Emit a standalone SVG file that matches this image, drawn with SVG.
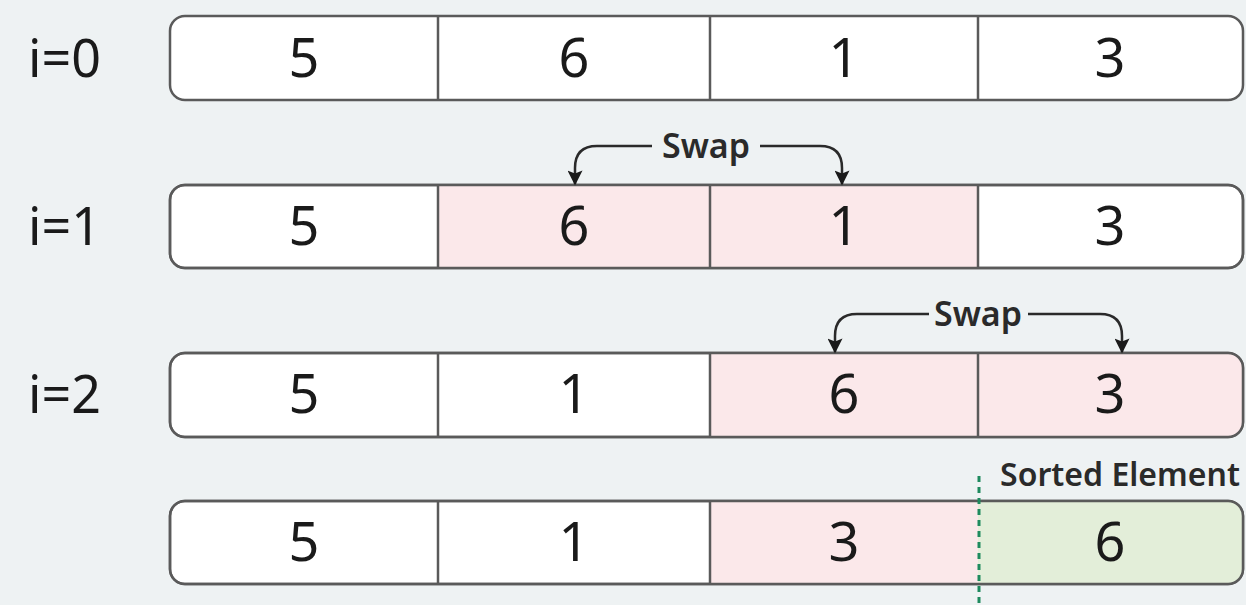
<svg xmlns="http://www.w3.org/2000/svg" width="1246" height="605" viewBox="0 0 1246 605">
<defs>
<style>
.bg{fill:#eef2f3}
.box{fill:#ffffff;stroke:#5a5a5a;stroke-width:2.5}
.div{stroke:#5a5a5a;stroke-width:2.5}
.pink{fill:#fbe8ea}
.green{fill:#e3eed9}
.num{font-family:"Noto Sans","Open Sans",sans-serif;font-size:54px;fill:#1a1a1a;text-anchor:middle}
.lbl{font-family:"Noto Sans","Open Sans",sans-serif;font-size:52px;fill:#1a1a1a}
.sw{font-family:"Noto Sans","Open Sans",sans-serif;font-size:34px;font-weight:600;fill:#2a2a2a;text-anchor:middle}
.conn{fill:none;stroke:#2a2a2a;stroke-width:2.5}
</style>
<marker id="ah" viewBox="0 0 10 10" refX="9" refY="5" markerWidth="6.5" markerHeight="6" orient="auto" markerUnits="strokeWidth">
<path d="M0,0 L10,5 L0,10 L2,5 Z" fill="#1a1a1a"/>
</marker>
<clipPath id="r1"><rect x="170" y="185" width="1073" height="83" rx="15"/></clipPath>
<clipPath id="r2"><rect x="170" y="353" width="1073" height="84" rx="15"/></clipPath>
<clipPath id="r3"><rect x="170" y="501" width="1073" height="83" rx="15"/></clipPath>
</defs>
<rect class="bg" x="0" y="0" width="1246" height="605"/>

<g id="row0">
<text class="lbl" x="28" y="77">i=0</text>
<rect class="box" x="170" y="16" width="1073" height="84" rx="15"/>
<line class="div" x1="438" y1="16" x2="438" y2="100"/>
<line class="div" x1="710" y1="16" x2="710" y2="100"/>
<line class="div" x1="978" y1="16" x2="978" y2="100"/>
<text class="num" x="304" y="77">5</text>
<text class="num" x="574" y="77">6</text>
<text class="num" x="844" y="77">1</text>
<text class="num" x="1110" y="77">3</text>
</g>

<g id="row1">
<text class="lbl" x="28" y="245">i=1</text>
<rect class="box" x="170" y="185" width="1073" height="83" rx="15"/>
<rect class="pink" x="438" y="186" width="540" height="81" clip-path="url(#r1)"/>
<line class="div" x1="438" y1="185" x2="438" y2="268"/>
<line class="div" x1="710" y1="185" x2="710" y2="268"/>
<line class="div" x1="978" y1="185" x2="978" y2="268"/>
<rect x="170" y="185" width="1073" height="83" rx="15" fill="none" stroke="#5a5a5a" stroke-width="2.5"/>
<text class="num" x="304" y="245">5</text>
<text class="num" x="574" y="245">6</text>
<text class="num" x="844" y="245">1</text>
<text class="num" x="1110" y="245">3</text>
</g>

<g id="row2">
<text class="lbl" x="28" y="413">i=2</text>
<rect class="box" x="170" y="353" width="1073" height="84" rx="15"/>
<rect class="pink" x="710" y="354" width="533" height="82" clip-path="url(#r2)"/>
<line class="div" x1="438" y1="353" x2="438" y2="437"/>
<line class="div" x1="710" y1="353" x2="710" y2="437"/>
<line class="div" x1="978" y1="353" x2="978" y2="437"/>
<rect x="170" y="353" width="1073" height="84" rx="15" fill="none" stroke="#5a5a5a" stroke-width="2.5"/>
<text class="num" x="304" y="413">5</text>
<text class="num" x="574" y="413">1</text>
<text class="num" x="844" y="413">6</text>
<text class="num" x="1110" y="413">3</text>
</g>

<g id="row3">
<rect class="box" x="170" y="501" width="1073" height="83" rx="15"/>
<rect class="pink" x="710" y="502" width="268" height="81"/>
<rect class="green" x="978" y="502" width="265" height="81" clip-path="url(#r3)"/>
<line class="div" x1="438" y1="501" x2="438" y2="584"/>
<line class="div" x1="710" y1="501" x2="710" y2="584"/>
<rect x="170" y="501" width="1073" height="83" rx="15" fill="none" stroke="#5a5a5a" stroke-width="2.5"/>
<text class="num" x="304" y="561">5</text>
<text class="num" x="574" y="561">1</text>
<text class="num" x="844" y="561">3</text>
<text class="num" x="1110" y="561">6</text>
</g>

<g id="sorted">
<line x1="979" y1="476" x2="979" y2="605" stroke="#1e8a5e" stroke-width="3" stroke-dasharray="6,5"/>
<text class="sw" x="1120" y="486" style="font-size:32px">Sorted Element</text>
</g>

<g id="connectors">
<path class="conn" d="M652,146 H597 Q575,146 575,168 V184" marker-end="url(#ah)"/>
<path class="conn" d="M760,146 H820 Q842,146 842,168 V184" marker-end="url(#ah)"/>
<text class="sw" x="706" y="158">Swap</text>
<path class="conn" d="M929,314 H857 Q835,314 835,336 V352" marker-end="url(#ah)"/>
<path class="conn" d="M1028,314 H1100 Q1122,314 1122,336 V352" marker-end="url(#ah)"/>
<text class="sw" x="978" y="326">Swap</text>
</g>
</svg>
